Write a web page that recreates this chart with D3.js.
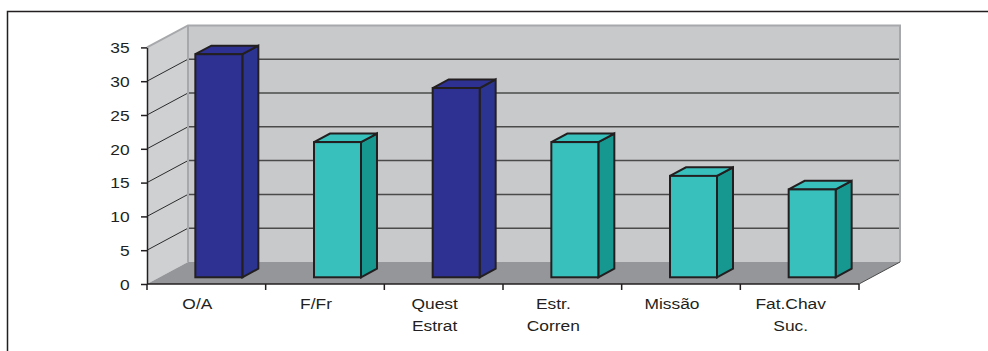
<!DOCTYPE html>
<html>
<head>
<meta charset="utf-8">
<script src="https://cdn.jsdelivr.net/npm/d3@7"></script>
<style>
  body { margin: 0; background: #fff; }
  text { font-family: "Liberation Sans", Arial, sans-serif; fill: #231f20; }
</style>
</head>
<body>
<div id="chart"></div>
<script>
// data
const categories = ["O/A", "F/Fr", "Quest Estrat", "Estr. Corren", "Missão", "Fat.Chav Suc."];
const labelLines = [["O/A"], ["F/Fr"], ["Quest", "Estrat"], ["Estr.", "Corren"], ["Missão"], ["Fat.Chav", "Suc."]];
const values = [33, 20, 28, 20, 15, 13];
const barKind = ["dark", "teal", "dark", "teal", "teal", "teal"];
const yTicks = [0, 5, 10, 15, 20, 25, 30, 35];

drawChart()

function drawChart() {
    var width = 988, height = 351;
    var DX = 41, DY = 22;          // wall depth
    var stretch = 1.2;             // text in the picture is stretched sideways

    var svg = d3.select("#chart")
        .append("svg")
        .attr("width", width)
        .attr("height", height);

    // outer frame
    svg.append("rect")
        .attr("x", 7.5).attr("y", 11.5)
        .attr("width", 1000).attr("height", 400)
        .attr("fill", "none")
        .attr("stroke", "#231f20")
        .attr("stroke-width", 1.5);

    var x = d3.scaleBand()
        .domain(categories)
        .range([147, 859]);

    var y = d3.scaleLinear()
        .domain([0, 35])
        .range([284, 47.4]);

    var x0 = x.range()[0], x1 = x.range()[1];
    var yTop = y(35), yBot = y(0);

    // side wall
    svg.append("path")
        .attr("d", "M" + x0 + "," + yBot + "L" + x0 + "," + yTop + "L" + (x0 + DX) + "," + (yTop - DY) + "L" + (x0 + DX) + "," + (yBot - DY) + "Z")
        .attr("fill", "#cfd0d2");

    // back wall
    svg.append("rect")
        .attr("x", x0 + DX).attr("y", yTop - DY)
        .attr("width", x1 - x0).attr("height", yBot - yTop)
        .attr("fill", "#c8c9cb");

    // floor
    svg.append("path")
        .attr("d", "M" + x0 + "," + yBot + "L" + (x0 + DX) + "," + (yBot - DY) + "L" + (x1 + DX) + "," + (yBot - DY) + "L" + x1 + "," + yBot + "Z")
        .attr("fill", "#959699");

    // gridlines on both walls
    var grid = yTicks.filter(function (d) { return d > 0 && d < 35; });
    svg.selectAll(".gside")
        .data(grid)
        .enter()
        .append("line")
        .attr("x1", x0).attr("y1", function (d) { return y(d); })
        .attr("x2", x0 + DX).attr("y2", function (d) { return y(d) - DY; })
        .attr("stroke", "#2b2b2b").attr("stroke-width", 1);
    svg.selectAll(".gback")
        .data(grid)
        .enter()
        .append("line")
        .attr("x1", x0 + DX).attr("y1", function (d) { return y(d) - DY; })
        .attr("x2", x1 + DX).attr("y2", function (d) { return y(d) - DY; })
        .attr("stroke", "#4a4a4a").attr("stroke-width", 1.5);

    // wall outlines (light grey)
    svg.append("path")
        .attr("d", "M" + x0 + "," + yTop + "L" + (x0 + DX) + "," + (yTop - DY) + "L" + (x1 + DX) + "," + (yTop - DY) + "L" + (x1 + DX) + "," + (yBot - DY))
        .attr("fill", "none").attr("stroke", "#a6a8ab").attr("stroke-width", 2);
    svg.append("line")
        .attr("x1", x0 + DX).attr("y1", yTop - DY)
        .attr("x2", x0 + DX).attr("y2", yBot - DY)
        .attr("stroke", "#a6a8ab").attr("stroke-width", 2);
    svg.append("line")
        .attr("x1", x1).attr("y1", yBot)
        .attr("x2", x1 + DX).attr("y2", yBot - DY)
        .attr("stroke", "#4a4a4a").attr("stroke-width", 1);

    // bars
    var colors = {
        dark: { front: "#2e3192", side: "#2b3491", top: "#2e3192" },
        teal: { front: "#38c0bc", side: "#16978f", top: "#38c0bc" }
    };
    var offX = 12.5, offY = offX * DY / DX;   // bar sits a bit back on the floor
    var bw = x.bandwidth() * 0.396;
    var bdx = 16, bdy = bdx * DY / DX;

    var bars = svg.selectAll(".bar")
        .data(values.map(function (v, i) { return { cat: categories[i], value: v, kind: barKind[i] }; }))
        .enter()
        .append("g");

    function geom(d) {
        var l = x(d.cat) + x.bandwidth() / 2 + offX - bw / 2;
        var r = l + bw;
        var b = y(0) - offY;
        var t = b - (y(0) - y(d.value));
        return { l: l, r: r, b: b, t: t };
    }

    bars.append("path")
        .attr("d", function (d) {
            var g = geom(d);
            return "M" + g.r + "," + g.b + "L" + (g.r + bdx) + "," + (g.b - bdy) + "L" + (g.r + bdx) + "," + (g.t - bdy) + "L" + g.r + "," + g.t + "Z";
        })
        .attr("fill", function (d) { return colors[d.kind].side; });
    bars.append("path")
        .attr("d", function (d) {
            var g = geom(d);
            return "M" + g.l + "," + g.t + "L" + (g.l + bdx) + "," + (g.t - bdy) + "L" + (g.r + bdx) + "," + (g.t - bdy) + "L" + g.r + "," + g.t + "Z";
        })
        .attr("fill", function (d) { return colors[d.kind].top; });
    bars.append("rect")
        .attr("x", function (d) { return geom(d).l; })
        .attr("y", function (d) { return geom(d).t; })
        .attr("width", bw)
        .attr("height", function (d) { var g = geom(d); return g.b - g.t; })
        .attr("fill", function (d) { return colors[d.kind].front; });
    bars.selectAll("path, rect")
        .attr("stroke", "#231f20")
        .attr("stroke-width", 2)
        .attr("stroke-linejoin", "miter");

    // y axis
    var yAxis = svg.append("g")
        .attr("transform", "translate(" + x0 + ",0)")
        .call(d3.axisLeft(y).tickValues(yTicks).tickSize(6).tickPadding(8.5).tickSizeOuter(0));
    yAxis.select(".domain").attr("stroke", "#231f20").attr("stroke-width", 1.5);
    yAxis.selectAll(".tick line").attr("stroke", "#231f20").attr("stroke-width", 1.5);
    yAxis.selectAll(".tick text")
        .attr("font-size", 14.5)
        .attr("font-family", "Liberation Sans, Arial, sans-serif")
        .attr("fill", "#231f20")
        .attr("dy", "0.36em")
        .attr("transform", "scale(" + stretch + ",1)");

    // x axis
    var bounds = categories.map(function (c) { return x(c); }).concat([x1]);
    svg.append("line")
        .attr("x1", x0).attr("y1", yBot).attr("x2", x1).attr("y2", yBot)
        .attr("stroke", "#231f20").attr("stroke-width", 1.5);
    svg.selectAll(".xtick")
        .data(bounds)
        .enter()
        .append("line")
        .attr("x1", function (d) { return d; }).attr("x2", function (d) { return d; })
        .attr("y1", yBot).attr("y2", yBot + 6)
        .attr("stroke", "#231f20").attr("stroke-width", 1.5);

    var labels = svg.selectAll(".xlab")
        .data(categories)
        .enter()
        .append("g")
        .attr("transform", function (d) {
            return "translate(" + (x(d) + x.bandwidth() / 2 - 9) + ",309) scale(" + stretch + ",1)";
        });
    labels.each(function (d, i) {
        var g = d3.select(this);
        labelLines[i].forEach(function (line, j) {
            g.append("text")
                .attr("y", j * 22.5)
                .attr("text-anchor", "middle")
                .attr("font-size", 14.5)
                .text(line);
        });
    });
}
</script>
</body>
</html>
